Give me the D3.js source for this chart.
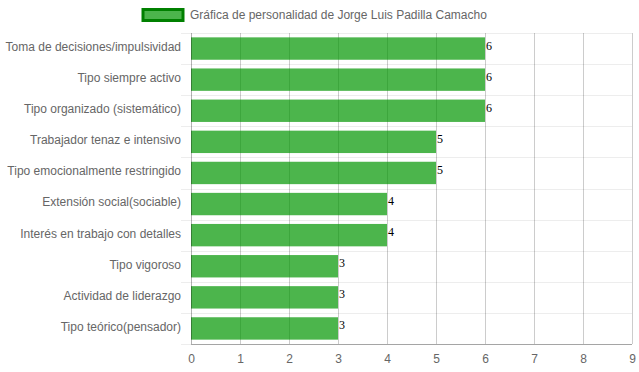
<!DOCTYPE html>
<html>
<head>
<meta charset="utf-8">
<script src="https://cdn.jsdelivr.net/npm/d3@7"></script>
<style>
  body { margin: 0; background: #fff; }
  text { font-family: "Liberation Sans", Arial, sans-serif; }
</style>
</head>
<body>
<div id="container"></div>
<script>
// Constants and globals
const width = 639,
  height = 372,
  margin = { top: 33, bottom: 28, left: 191, right: 7 },
  barColor = "rgba(0,150,0,0.7)",
  borderColor = "#008000"

// data
const datasetLabel = "Gráfica de personalidad de Jorge Luis Padilla Camacho"
const categories = [
  "Toma de decisiones/impulsividad",
  "Tipo siempre activo",
  "Tipo organizado (sistemático)",
  "Trabajador tenaz e intensivo",
  "Tipo emocionalmente restringido",
  "Extensión social(sociable)",
  "Interés en trabajo con detalles",
  "Tipo vigoroso",
  "Actividad de liderazgo",
  "Tipo teórico(pensador)"
]
const values = [6, 6, 6, 5, 5, 4, 4, 3, 3, 3]
const xTicks = [0, 1, 2, 3, 4, 5, 6, 7, 8, 9]

const data = categories.map((c, i) => ({ cat: c, value: values[i] }))

// scales
const xScale = d3.scaleLinear()
  .domain([0, 9])
  .range([margin.left, width - margin.right])

const yScale = d3.scaleBand()
  .domain(categories)
  .range([margin.top, height - margin.bottom])

// svg
const svg = d3.select("#container")
  .append("svg")
  .attr("width", width)
  .attr("height", height)

// horizontal grid lines (category boundaries), with tick stubs on the left
const bounds = categories.map(c => yScale(c)).concat([height - margin.bottom])
svg.append("g")
  .selectAll("line")
  .data(bounds)
  .join("line")
  .attr("x1", margin.left - 10)
  .attr("x2", width - margin.right)
  .attr("y1", d => Math.round(d) + 0.5)
  .attr("y2", d => Math.round(d) + 0.5)
  .attr("stroke", "rgba(0,0,0,0.07)")

// vertical grid lines
svg.append("g")
  .selectAll("line")
  .data(xTicks.slice(1))
  .join("line")
  .attr("x1", d => Math.round(xScale(d)) + 0.5)
  .attr("x2", d => Math.round(xScale(d)) + 0.5)
  .attr("y1", margin.top)
  .attr("y2", height - margin.bottom)
  .attr("stroke", "rgba(0,0,0,0.2)")

// bars
const bandPad = yScale.bandwidth() * 0.14
svg.append("g")
  .selectAll("rect")
  .data(data)
  .join("rect")
  .attr("x", xScale(0))
  .attr("y", d => yScale(d.cat) + bandPad)
  .attr("width", d => xScale(d.value) - xScale(0))
  .attr("height", yScale.bandwidth() - 2 * bandPad)
  .attr("fill", barColor)

// axis lines
svg.append("line")
  .attr("x1", Math.round(xScale(0)) + 0.5)
  .attr("x2", Math.round(xScale(0)) + 0.5)
  .attr("y1", margin.top)
  .attr("y2", height - margin.bottom)
  .attr("stroke", "rgba(0,0,0,0.3)")

svg.append("line")
  .attr("x1", margin.left)
  .attr("x2", width - margin.right)
  .attr("y1", height - margin.bottom + 0.5)
  .attr("y2", height - margin.bottom + 0.5)
  .attr("stroke", "rgba(0,0,0,0.3)")

// x tick labels
const xAxis = d3.axisBottom(xScale).tickValues(xTicks).tickSize(0).tickPadding(10)
svg.append("g")
  .attr("transform", `translate(0,${height - margin.bottom})`)
  .call(xAxis)
  .call(g => g.select(".domain").remove())
  .selectAll("text")
  .attr("fill", "#666")
  .style("font-size", "12px")
  .style("font-family", "Liberation Sans, Arial, sans-serif")

// y tick labels
const yAxis = d3.axisLeft(yScale).tickSize(0).tickPadding(10)
svg.append("g")
  .attr("transform", `translate(${margin.left},0)`)
  .call(yAxis)
  .call(g => g.select(".domain").remove())
  .selectAll("text")
  .attr("fill", "#666")
  .attr("dy", "0.2em")
  .style("font-size", "12px")
  .style("font-family", "Liberation Sans, Arial, sans-serif")

// value labels
svg.append("g")
  .selectAll("text")
  .data(data)
  .join("text")
  .attr("x", d => xScale(d.value) + 1)
  .attr("y", d => yScale(d.cat) + yScale.bandwidth() / 2 + 1)
  .attr("fill", "#000")
  .style("font-family", "Liberation Serif, 'Times New Roman', serif")
  .style("font-size", "12px")
  .text(d => d.value)

// legend
const legend = svg.append("g")
legend.append("rect")
  .attr("x", 143)
  .attr("y", 9.5)
  .attr("width", 40)
  .attr("height", 11)
  .attr("fill", barColor)
  .attr("stroke", borderColor)
  .attr("stroke-width", 3)
legend.append("text")
  .attr("x", 190)
  .attr("y", 19)
  .attr("fill", "#666")
  .style("font-size", "12px")
  .text(datasetLabel)
</script>
</body>
</html>
